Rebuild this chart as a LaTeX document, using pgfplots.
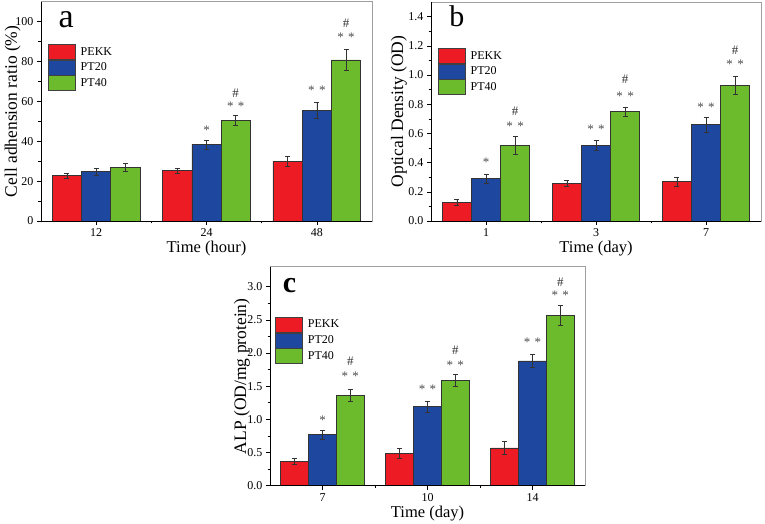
\documentclass[border=0pt]{standalone}
\usepackage{fontspec}
\setmainfont{Liberation Serif}
\usepackage{pgfplots}
\pgfplotsset{compat=1.18}

\definecolor{cred}{RGB}{237,28,36}
\definecolor{cblue}{RGB}{30,72,160}
\definecolor{cgreen}{RGB}{108,187,45}

% x: 0 = first time point, 1 = second, 2 = third
\pgfplotstableread{
x  pekk  epekk  pt20  ept20  pt40  ept40
0  22.8  1.3    24.8  1.7    27.0  2.0
1  25.2  1.2    38.4  2.3    50.5  2.6
2  30.0  2.6    55.6  4.0    80.8  5.2
}\adhesion
\pgfplotstableread{
x  pekk  epekk  pt20  ept20  pt40  ept40
0  0.13  0.02   0.29  0.03   0.52  0.06
1  0.26  0.02   0.52  0.035  0.75  0.03
2  0.27  0.03   0.66  0.05   0.93  0.06
}\density
\pgfplotstableread{
x  pekk  epekk  pt20  ept20  pt40  ept40
0  0.37  0.04   0.77  0.065  1.36  0.09
1  0.49  0.07   1.19  0.085  1.59  0.09
2  0.57  0.095  1.88  0.10   2.57  0.15
}\alp

\pgfplotsset{
  panel/.style={
    scale only axis, clip=false,
    ybar=0pt, bar width=0.265,
    xmin=-0.5, xmax=2.5, ymin=0,
    xtick={0,1,2}, minor xtick={0.5,1.5},
    tick align=outside, xtick pos=bottom, ytick pos=left,
    major tick length=4pt, minor tick length=2.5pt,
    minor y tick num=1,
    tick style={black, line width=0.6pt},
    axis line style={gray!75, line width=0.8pt},
    ticklabel style={font=\rmfamily\fontsize{12}{14}\selectfont},
    xticklabel style={anchor=base, yshift=-12pt},
    xlabel style={font=\fontsize{16.5}{19}\selectfont,
      at={(axis description cs:0.5,0)}, anchor=base, yshift=-32pt},
    ylabel style={font=\fontsize{17.5}{19}\selectfont},
    /pgf/number format/assume math mode=true,
    legend style={draw=none, fill=none, anchor=north west, inner sep=0pt,
      row sep=0pt, font=\rmfamily\fontsize{12}{14}\selectfont,
      nodes={inner sep=0pt}},
    legend cell align=left,
    every axis plot post/.append style={
      legend image code/.code={
        \draw[##1, draw=gray!50!black, line width=0.6pt] (0pt,-7.5pt) rectangle (27pt,7.5pt);
        \path (32pt,0pt);}},
  },
  bars/.style={fill=#1, draw=black!80, line width=0.6pt,
    error bars/y dir=both, error bars/y explicit,
    error bars/error bar style={black!80, line width=0.5pt},
    error bars/error mark options={rotate=90, black!80, mark size=2.5pt}},
}
\newcommand\blackframe{\draw[black, line width=0.8pt] (rel axis cs:0,1) -- (rel axis cs:0,0) -- (rel axis cs:1,0);}
\newcommand\ann[3]{\node[font=\fontsize{13}{15}\selectfont, text=#3, inner sep=0pt] at (axis cs:#1) {#2};}

\begin{document}
\begin{tikzpicture}
\useasboundingbox (0pt,0pt) rectangle (765pt,524pt);

% ---- panel a ----
\begin{axis}[panel,
  at={(41pt,303pt)}, anchor=south west,
  width=331pt, height=219.2pt,
  ymax=110, ytick={0,20,...,100},
  xticklabels={12,24,48},
  xlabel={Time (hour)},
  ylabel={Cell adhension ratio (\%)},
  ylabel style={at={(axis description cs:0,0.5)}, anchor=base, yshift=24pt},
  legend style={at={(rel axis cs:0.021,0.808)}},
]
\addplot[bars=cred]   table[x=x, y=pekk, y error=epekk] {\adhesion};
\addplot[bars=cblue]  table[x=x, y=pt20, y error=ept20] {\adhesion};
\addplot[bars=cgreen] table[x=x, y=pt40, y error=ept40] {\adhesion};
\legend{PEKK,PT20,PT40}
\blackframe
\ann{1,45.6}{*}{black!70}
\ann{1.265,57.5}{*\,\,*}{black!70}
\ann{1.265,64.3}{\#}{black!80}
\ann{2,65.7}{*\,\,*}{black!70}
\ann{2.265,92}{*\,\,*}{black!70}
\ann{2.265,99}{\#}{black!80}
\node[font=\fontsize{34}{36}\selectfont, anchor=base, inner sep=0pt] at (axis cs:-0.273,97.3) {a};
\end{axis}

% ---- panel b ----
\begin{axis}[panel,
  at={(431pt,303pt)}, anchor=south west,
  width=330pt, height=218.9pt,
  ymax=1.5, ytick={0,0.2,0.4,0.6,0.8,1.0,1.2,1.4},
  yticklabel style={/pgf/number format/.cd, fixed, fixed zerofill, precision=1},
  xticklabels={1,3,7},
  xlabel={Time (day)},
  ylabel={Optical Density (OD)},
  ylabel style={at={(axis description cs:0,0.5)}, anchor=base, yshift=28pt},
  legend style={at={(rel axis cs:0.021,0.79)}},
]
\addplot[bars=cred]   table[x=x, y=pekk, y error=epekk] {\density};
\addplot[bars=cblue]  table[x=x, y=pt20, y error=ept20] {\density};
\addplot[bars=cgreen] table[x=x, y=pt40, y error=ept40] {\density};
\legend{PEKK,PT20,PT40}
\blackframe
\ann{0,0.405}{*}{black!70}
\ann{0.265,0.65}{*\,\,*}{black!70}
\ann{0.265,0.755}{\#}{black!80}
\ann{1,0.628}{*\,\,*}{black!70}
\ann{1.265,0.858}{*\,\,*}{black!70}
\ann{1.265,0.97}{\#}{black!80}
\ann{2,0.779}{*\,\,*}{black!70}
\ann{2.265,1.076}{*\,\,*}{black!70}
\ann{2.265,1.167}{\#}{black!80}
\node[font=\fontsize{30}{32}\selectfont, anchor=base, inner sep=0pt] at (axis cs:-0.264,1.332) {b};
\end{axis}

% ---- panel c ----
\begin{axis}[panel,
  at={(270pt,38.3pt)}, anchor=south west,
  width=315pt, height=218.9pt,
  ymax=3.3, ytick={0,0.5,1.0,1.5,2.0,2.5,3.0},
  yticklabel style={/pgf/number format/.cd, fixed, fixed zerofill, precision=1},
  xticklabels={7,10,14},
  xlabel={Time (day)},
  ylabel={ALP (OD/mg protein)},
  ylabel style={at={(axis description cs:0,0.5)}, anchor=base, yshift=24pt},
  legend style={at={(rel axis cs:0.016,0.772)}},
]
\addplot[bars=cred]   table[x=x, y=pekk, y error=epekk] {\alp};
\addplot[bars=cblue]  table[x=x, y=pt20, y error=ept20] {\alp};
\addplot[bars=cgreen] table[x=x, y=pt40, y error=ept40] {\alp};
\legend{PEKK,PT20,PT40}
\blackframe
\ann{0,0.99}{*}{black!70}
\ann{0.265,1.643}{*\,\,*}{black!70}
\ann{0.265,1.87}{\#}{black!80}
\ann{1,1.452}{*\,\,*}{black!70}
\ann{1.265,1.814}{*\,\,*}{black!70}
\ann{1.265,2.035}{\#}{black!80}
\ann{2,2.156}{*\,\,*}{black!70}
\ann{2.265,2.864}{*\,\,*}{black!70}
\ann{2.265,3.06}{\#}{black!80}
\node[font=\fontsize{30}{32}\selectfont\bfseries, anchor=base, inner sep=0pt] at (axis cs:-0.314,2.905) {c};
\end{axis}
\end{tikzpicture}
\end{document}
